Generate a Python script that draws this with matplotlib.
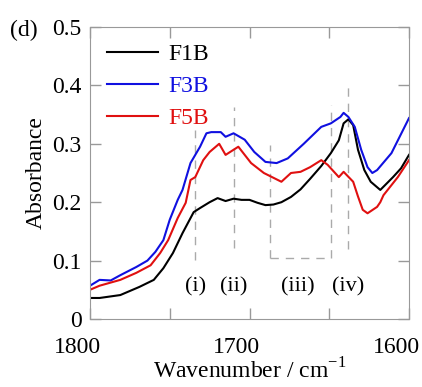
import numpy as np
import matplotlib
matplotlib.use("Agg")
import matplotlib.pyplot as plt
import matplotlib.transforms as mtransforms

plt.rcParams['font.family'] = ['Liberation Serif', 'DejaVu Serif']

# F1B (black)
wn_f1b = [1800, 1794, 1781, 1769, 1760, 1754, 1748, 1742, 1735, 1731, 1725, 1720, 1715,
          1710, 1705, 1700, 1695, 1690, 1685, 1680, 1674, 1668, 1662, 1655, 1649, 1644,
          1641, 1638, 1635, 1632, 1628, 1624, 1618, 1610, 1605, 1600]
ab_f1b = [0.036, 0.036, 0.041, 0.055, 0.067, 0.087, 0.113, 0.147, 0.183, 0.190, 0.200, 0.207, 0.202,
          0.206, 0.204, 0.204, 0.199, 0.195, 0.196, 0.200, 0.209, 0.222, 0.240, 0.262, 0.284, 0.306,
          0.335, 0.342, 0.332, 0.290, 0.255, 0.235, 0.221, 0.243, 0.258, 0.281]

# F3B (blue)
wn_f3b = [1800, 1794, 1787, 1781, 1771, 1764, 1759, 1754, 1750, 1745, 1742, 1737, 1734,
          1731, 1727, 1724, 1718, 1715, 1710, 1703, 1697, 1690, 1683, 1676, 1666, 1655,
          1649, 1643, 1641, 1638, 1634, 1630, 1626, 1623, 1620, 1611, 1600]
ab_f3b = [0.057, 0.067, 0.066, 0.075, 0.089, 0.100, 0.115, 0.135, 0.170, 0.204, 0.221, 0.267, 0.281,
          0.295, 0.318, 0.320, 0.320, 0.312, 0.318, 0.307, 0.286, 0.269, 0.267, 0.275, 0.300, 0.329,
          0.335, 0.346, 0.353, 0.346, 0.329, 0.290, 0.260, 0.250, 0.255, 0.284, 0.344]

# F5B (red)
wn_f5b = [1800, 1794, 1781, 1771, 1762, 1756, 1751, 1745, 1740, 1737, 1734, 1729, 1725,
          1719, 1715, 1707, 1699, 1691, 1680, 1674, 1668, 1662, 1655, 1651, 1644, 1641,
          1635, 1632, 1629, 1626, 1620, 1618, 1616, 1607, 1600]
ab_f5b = [0.050, 0.057, 0.067, 0.079, 0.092, 0.113, 0.135, 0.173, 0.199, 0.238, 0.243, 0.272, 0.286,
          0.300, 0.281, 0.295, 0.267, 0.250, 0.235, 0.250, 0.252, 0.260, 0.272, 0.264, 0.243, 0.252,
          0.235, 0.210, 0.187, 0.181, 0.192, 0.200, 0.212, 0.243, 0.272]

# band marker lines: (wavenumber, y bottom, y top)
band_lines = [(1734, 0.101, 0.324), (1710, 0.121, 0.363), (1687, 0.104, 0.298),
              (1649, 0.104, 0.366), (1638, 0.120, 0.397)]
band_labels = ['(i)', '(ii)', '(iii)', '(iv)']
band_label_x = [1734, 1710, 1670, 1638]

fig = plt.figure(figsize=(4.22, 3.87), dpi=100)
ax = fig.add_axes([90/422, 68/387, 319/422, 292/387])

for wn, y0, y1 in band_lines:
    ax.plot([wn, wn], [y0, y1], '--', color='#aaaaaa', lw=1, dashes=(6, 5))
ax.plot([1687, 1649], [0.104, 0.104], '--', color='#aaaaaa', lw=1, dashes=(6, 5))

ax.plot(wn_f1b, ab_f1b, color='black', lw=1.5, label='F1B')
ax.plot(wn_f3b, ab_f3b, color='#1010e0', lw=1.5, label='F3B')
ax.plot(wn_f5b, ab_f5b, color='#e01010', lw=1.5, label='F5B')

for lab, x in zip(band_labels, band_label_x):
    ax.text(x, 0.055, lab, ha='center', va='center', fontsize=16)

ax.set_xlim(1800, 1600)
ax.set_ylim(0, 0.5)
ax.set_xticks([1800, 1750, 1700, 1650, 1600])
ax.set_xticklabels(['1800', '', '1700', '', '1600'])
ax.set_yticks([0, 0.1, 0.2, 0.3, 0.4, 0.5])
ax.set_yticklabels(['0', '0.1', '0.2', '0.3', '0.4', '0.5'])
ax.tick_params(direction='in', length=8, width=1, color='#999999', labelsize=17,
               top=True, right=True, pad=6)
ax.tick_params(axis='x', pad=13)
# x tick labels sit a bit left of their ticks in the original
shift = mtransforms.ScaledTranslation(-13/100, 0, fig.dpi_scale_trans)
for lbl in ax.get_xticklabels():
    lbl.set_transform(lbl.get_transform() + shift)
for sp in ax.spines.values():
    sp.set_color('#999999')

ax.set_xlabel('Wavenumber / cm$^{\\mathregular{-1}}$', fontsize=17, labelpad=0)
ax.set_ylabel('Absorbance', fontsize=17, labelpad=4)
fig.text(10/422, 1 - 30/387, '(d)', fontsize=17, ha='left', va='center')

leg = ax.legend(loc='upper left', frameon=False, fontsize=17, handlelength=2.2,
                handletextpad=0.4, labelspacing=0.45, borderaxespad=0.3)
for txt, c in zip(leg.get_texts(), ['black', '#1010e0', '#e01010']):
    txt.set_color(c)

fig.savefig('out.png', dpi=100)
